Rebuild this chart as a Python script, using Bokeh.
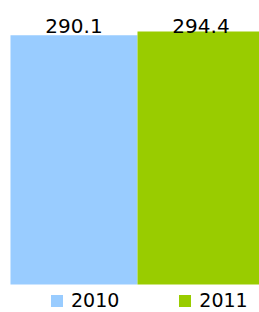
from bokeh.plotting import figure
from bokeh.models import ColumnDataSource, Range1d, Legend, LegendItem
from bokeh.core.properties import value
from bokeh.embed import file_html
from bokeh.resources import INLINE

years = ["2010", "2011"]
values = [290.1, 294.4]
colors = ["#99CCFF", "#99CC00"]
positions = [0, 1]
labels = ["290.1", "294.4"]

W, H = 259, 312
p = figure(width=W, height=H, output_backend="svg", toolbar_location=None,
           x_range=Range1d(-0.5787, 1.4606), y_range=Range1d(-32.58, 330.47),
           min_border=0, min_border_left=0, min_border_right=0,
           min_border_top=0, min_border_bottom=0)
p.axis.visible = False
p.grid.visible = False
p.outline_line_color = None
p.background_fill_color = "white"
p.border_fill_color = "white"

renderers = []
for i in range(len(years)):
    src = ColumnDataSource(dict(x=[positions[i]], top=[values[i]]))
    r = p.vbar(x="x", top="top", width=1.0, bottom=0, source=src,
               fill_color=colors[i], line_color=None)
    renderers.append(r)

lsrc = ColumnDataSource(dict(x=positions, y=[max(values)] * len(values), t=labels))
p.text(x="x", y="y", text="t", source=lsrc, text_align="center",
       text_baseline="bottom", text_font=value("DejaVu Sans"),
       text_font_size="20px", text_color="#000000", y_offset=2)

legend = Legend(items=[LegendItem(label=years[i], renderers=[renderers[i]]) for i in range(len(years))],
                orientation="horizontal", location=(49, 1),
                label_text_font="DejaVu Sans", label_text_font_size="19px",
                label_text_color="#000000", glyph_width=15, glyph_height=15,
                label_standoff=7, spacing=58, padding=0, margin=0,
                border_line_color=None, background_fill_alpha=0)
p.add_layout(legend, "center")

open("out.html", "w").write(file_html(p, INLINE))
